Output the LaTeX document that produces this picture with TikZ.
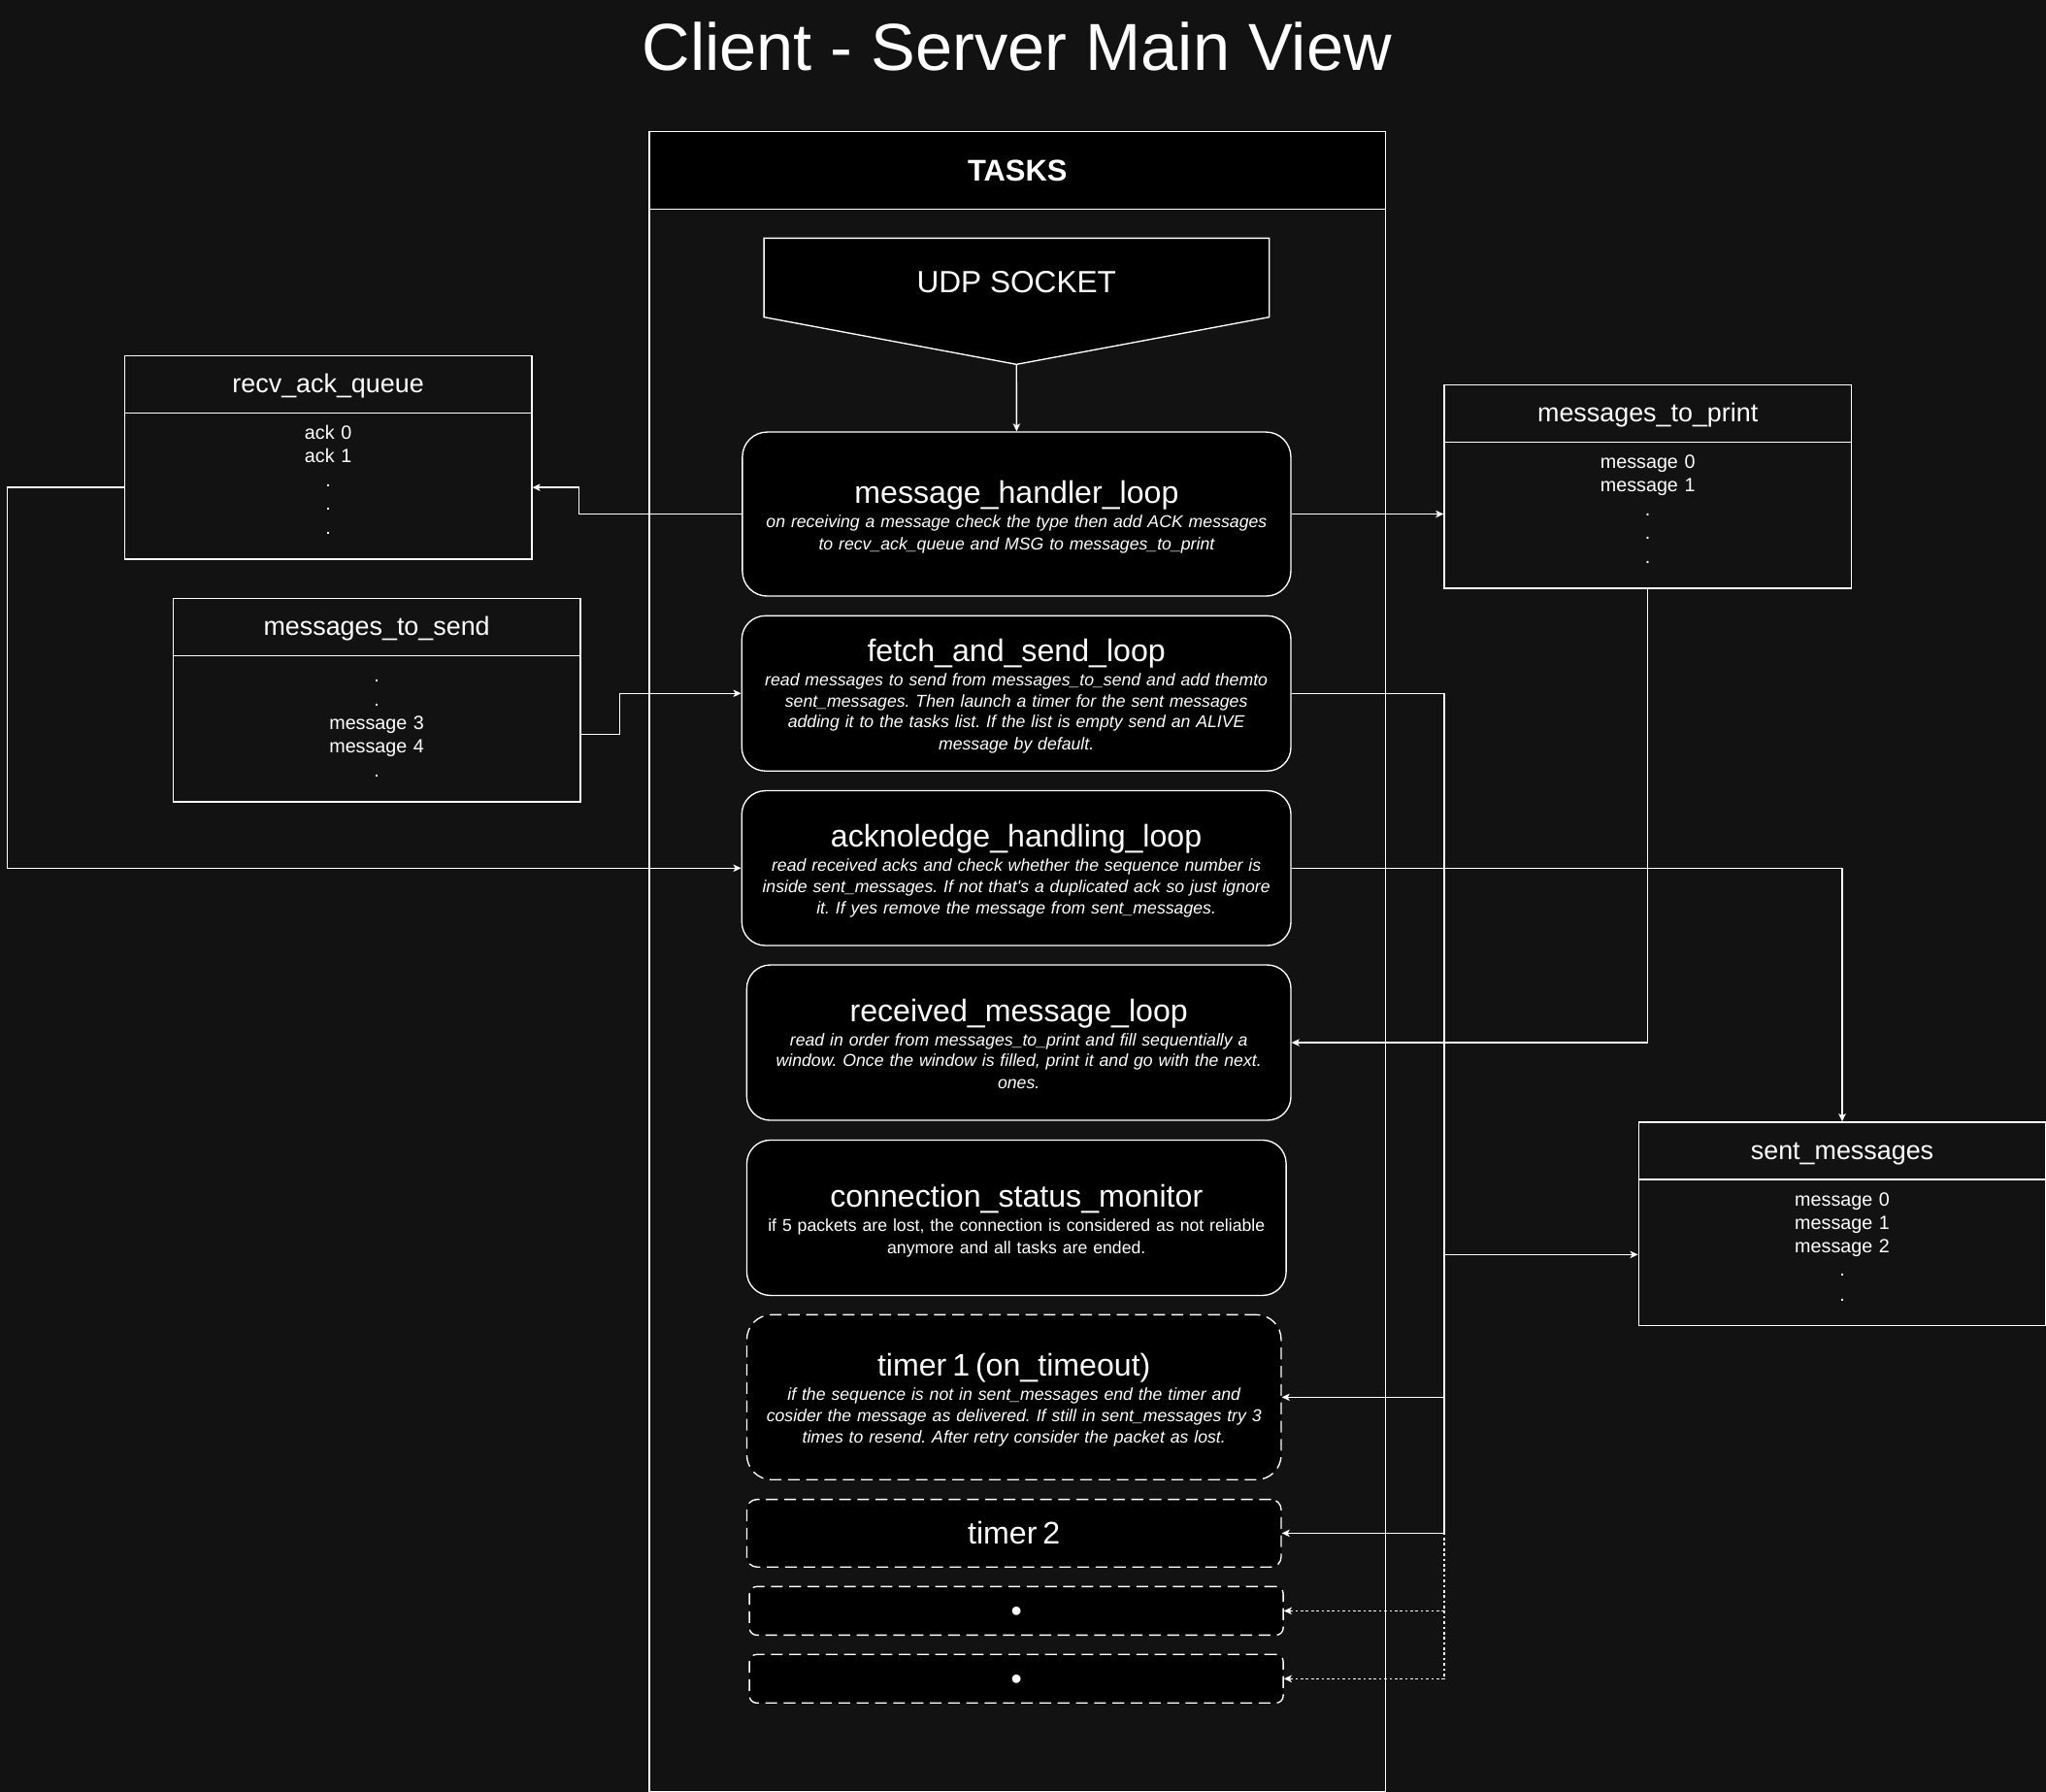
\documentclass[tikz,border=0pt]{standalone}
\usepackage{fontspec}
\setmainfont{Liberation Sans}
\usetikzlibrary{arrows.meta,calc}
\definecolor{bgc}{HTML}{121212}
\frenchspacing
\newcommand\lbstrut{\rule[-.2535em]{0pt}{1.2em}}
\newcommand\descstrut{\rule[-3.38pt]{0pt}{16pt}}
\newcommand\itemstrut{\rule[-3.9pt]{0pt}{18pt}}
\newcommand\tightlines{\frenchspacing\baselineskip=0pt\lineskip=0pt\lineskiplimit=0pt\relax}
\newcommand\tasktitle[1]{{\fontsize{23.9}{0}\selectfont\upshape\lbstrut #1}}
\newcommand\qnode[5]{%
  \node[qbox] (#1) at (#2,#3) {};
  \draw[line] ([yshift=-44.5pt]#1.north west) -- ([yshift=-44.5pt]#1.north east);
  \node[qtitle] (#1t) at ([yshift=-22.25pt]#1.north) {\lbstrut #4};
  \node[qitems] (#1i) at ([yshift=-50.5pt]#1.north) {\tightlines #5};
}
\begin{document}
\begin{tikzpicture}[x=1pt,y=-1pt,
  every node/.style={text=white, inner sep=0pt},
  line/.style={draw=white, line width=1pt},
  arr/.style={line, -{Stealth[length=6pt,width=5.5pt,inset=1.5pt]}},
  dotarr/.style={arr, dash pattern=on 2pt off 2pt},
  task/.style={draw=white, line width=1pt, fill=black, rounded corners=#1, align=center, font=\fontsize{13.15}{0}\selectfont\itshape},
  task/.default=18,
  dtask/.style={task=#1, dash pattern=on 9pt off 5pt},
  dtask/.default=7,
  qbox/.style={draw=white, line width=1pt, anchor=north west, minimum width=312, minimum height=156},
  qtitle/.style={font=\fontsize{20}{24}\selectfont},
  qitems/.style={anchor=north, align=center, text width=300, font=\fontsize{14.67}{0}\selectfont},
]
\useasboundingbox (0,0) rectangle (1568,1373);
\fill[bgc] (0,0) rectangle (1568,1373);

% title
\node[anchor=base, font=\fontsize{51}{60}\selectfont] (title) at (779.3,54) {Client - Server Main View};

% TASKS container
\node[draw=white, line width=1pt, anchor=north west, minimum width=564.5, minimum height=1212.5] (tasks) at (497,159.9) {};
\node[draw=white, line width=1pt, fill=black, anchor=north west, minimum width=564.5, minimum height=59.5, font=\fontsize{23}{28}\selectfont\bfseries] (tasksh) at (497,100.4) {\lbstrut TASKS};

% UDP socket
\filldraw[fill=black, draw=white, line width=1pt] (585.5,182.5) -- (972.7,182.5) -- (972.7,243) -- (779,279.2) -- (585.5,243) -- cycle;
\node[font=\fontsize{23.5}{28}\selectfont] (udp) at (779,216) {\lbstrut UDP SOCKET};
\coordinate (udptip) at (779,279.2);

% tasks
\node[task=19, minimum width=420.3, minimum height=125.7, text width=410] (mhl) at (779.1,393.9)
 {\tightlines\tasktitle{message\_handler\_loop}\\\descstrut on receiving a message check the type then add ACK messages\\\descstrut to recv\_ack\_queue and MSG to messages\_to\_print};
\node[task=18, minimum width=420.8, minimum height=118.9, text width=410] (fetch) at (778.9,531.3)
 {\tightlines\tasktitle{fetch\_and\_send\_loop}\\\descstrut read messages to send from messages\_to\_send and add themto\\\descstrut sent\_messages. Then launch a timer for the sent messages\\\descstrut adding it to the tasks list. If the list is empty send an ALIVE\\\descstrut message by default.};
\node[task=18, minimum width=420.8, minimum height=118.6, text width=410] (ack) at (778.9,665.2)
 {\tightlines\tasktitle{acknoledge\_handling\_loop}\\\descstrut read received acks and check whether the sequence number is\\\descstrut inside sent\_messages. If not that\textquotesingle s a duplicated ack so just ignore\\\descstrut it. If yes remove the message from sent\_messages.};
\node[task=18, minimum width=417, minimum height=119, text width=407] (rml) at (780.8,798.9)
 {\tightlines\tasktitle{received\_message\_loop}\\\descstrut read in order from messages\_to\_print and fill sequentially a\\\descstrut window. Once the window is filled, print it and go with the next.\\\descstrut ones.};
\node[task=18, minimum width=413.3, minimum height=119, text width=403, font=\fontsize{13.15}{0}\selectfont] (csm) at (779,933.1)
 {\tightlines\tasktitle{connection\_status\_monitor}\\\descstrut if 5 packets are lost, the connection is considered as not reliable\\\descstrut anymore and all tasks are ended.};
\node[dtask=19, minimum width=409.5, minimum height=126.4, text width=400] (t1) at (777.1,1070.6)
 {\tightlines\tasktitle{timer 1 (on\_timeout)}\\\descstrut if the sequence is not in sent\_messages end the timer and\\\descstrut cosider the message as delivered. If still in sent\_messages try 3\\\descstrut times to resend. After retry consider the packet as lost.};
\node[dtask=7.8, minimum width=409.5, minimum height=51.8, text width=400] (t2) at (777.1,1174.8)
 {\tightlines\tasktitle{timer 2}};
\node[dtask=5.6, minimum width=409.1, minimum height=37.2, text width=400] (d1) at (778.9,1234.3)
 {\tightlines\tasktitle{•}};
\node[dtask=5.6, minimum width=409.1, minimum height=37.2, text width=400] (d2) at (778.9,1286.3)
 {\tightlines\tasktitle{•}};

% queues
\qnode{recv}{95}{272}{recv\_ack\_queue}{\itemstrut ack 0\\\itemstrut ack 1\\\itemstrut .\\\itemstrut .\\\itemstrut .}
\qnode{mts}{132.2}{458}{messages\_to\_send}{\itemstrut .\\\itemstrut .\\\itemstrut message 3\\\itemstrut message 4\\\itemstrut .}
\qnode{mtp}{1106.3}{294.3}{messages\_to\_print}{\itemstrut message 0\\\itemstrut message 1\\\itemstrut .\\\itemstrut .\\\itemstrut .}
\qnode{sent}{1255.3}{859.3}{sent\_messages}{\itemstrut message 0\\\itemstrut message 1\\\itemstrut message 2\\\itemstrut .\\\itemstrut .}

% connectors
\draw[arr] (udptip) -- (mhl.north);
\draw[arr] (mhl.west) -- ++(-124.6,0) |- ([yshift=-23pt]recv.east);
\draw[arr] ([yshift=-23pt]recv.west) -- ++(-89.3,0) |- (ack.west);
\draw[arr] ([yshift=-26pt]mts.east) -- ++(29.6,0) |- (fetch.west);
\draw[arr] (mhl.east) -- (mhl.east -| mtp.west);
\draw[arr] (mtp.south) |- (rml.east);
\draw[arr] (ack.east) -| (sent.north);
\draw[arr] (fetch.east) -- ++(117,0) |- ([yshift=-23.5pt]sent.west);
\draw[arr] (fetch.east) -- ++(117,0) |- (t1.east);
\draw[arr] (fetch.east) -- ++(117,0) |- (t2.east);
\draw[dotarr] (fetch.east) -- ++(117,0) |- (d1.east);
\draw[dotarr] (fetch.east) -- ++(117,0) |- (d2.east);
\end{tikzpicture}
\end{document}
